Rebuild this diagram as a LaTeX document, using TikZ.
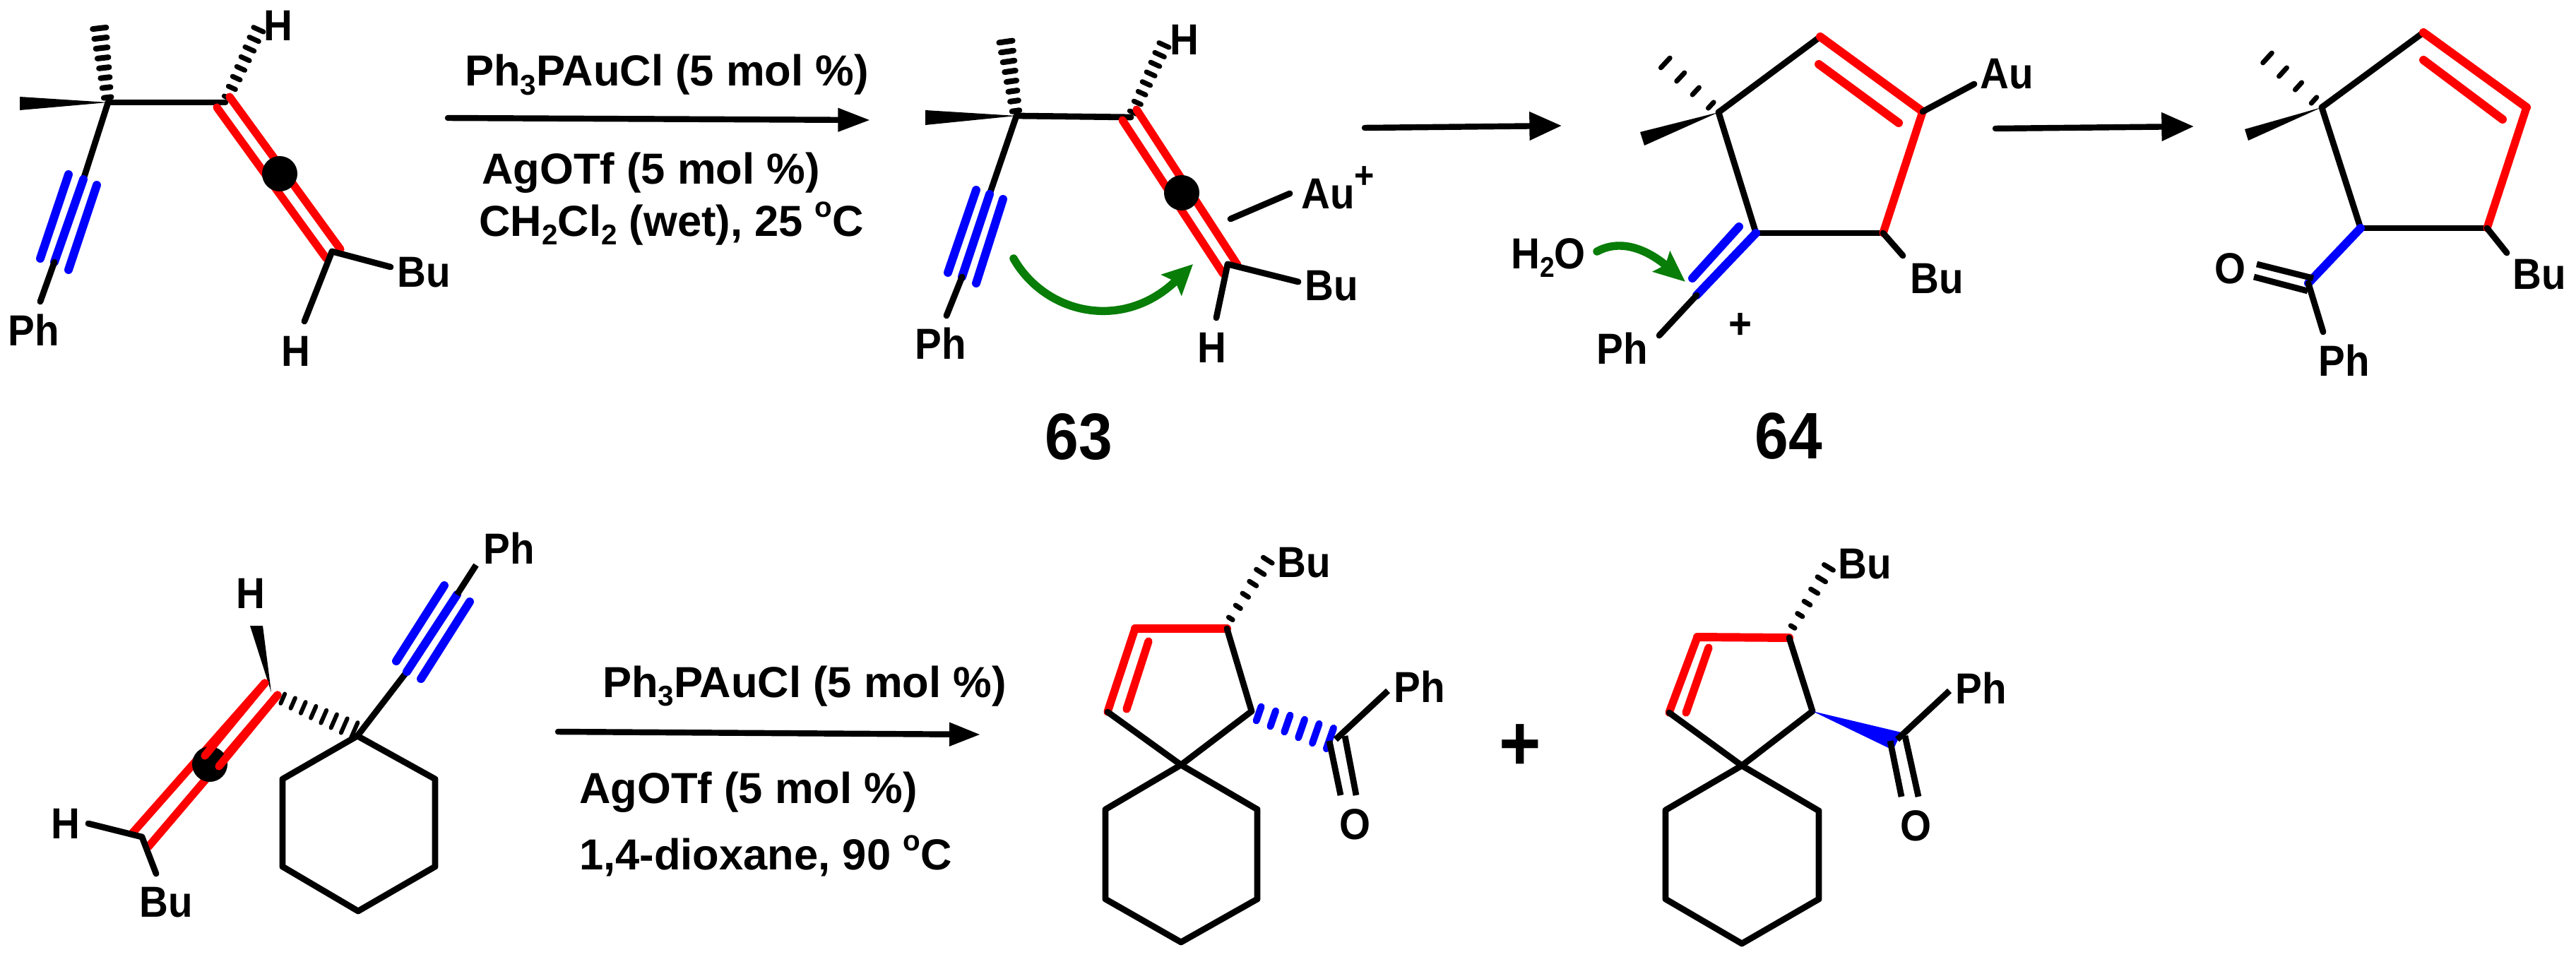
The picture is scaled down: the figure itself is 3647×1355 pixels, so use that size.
\documentclass[tikz,border=0pt]{standalone}
\usepackage{fontspec}
\setmainfont[FakeStretch=0.92]{Liberation Sans}
\newfontfamily\rgtfam{Liberation Sans}
\usetikzlibrary{calc,arrows.meta}
\definecolor{gr}{RGB}{8,125,8}
\newcommand{\subx}[1]{\raisebox{-7pt}{\fontsize{23}{24}\selectfont #1}}
\newcommand{\supo}{\raisebox{15pt}{\fontsize{23}{24}\selectfont o}}
% hashed bond: from, to, ticks, half-width at start, half-width at end, stroke width (all px), colour
\newcommand{\hashb}[7]{%
  \foreach \i in {1,...,#3}{%
    \pgfmathsetmacro\tt{(\i-0.5)/#3}%
    \pgfmathsetmacro\ww{(#4+(#5-#4)*\tt)*0.569}%
    \coordinate (hh) at ($(#1)!\tt!(#2)$);
    \draw[line width=#6*0.569pt,color=#7,line cap=round]
      ($(hh)!\ww pt!90:(#2)$) -- ($(hh)!-\ww pt!90:(#2)$);
  }%
}
\tikzset{
  bnd/.style={line width=5pt,line cap=round,line join=round,black},
  rbnd/.style={line width=6.4pt,line cap=round,line join=round,red},
  rthick/.style={line width=6.8pt,line cap=round,line join=round,red},
  bbnd/.style={line width=6.8pt,line cap=round,line join=round,blue},
  grn/.style={line width=6.5pt,gr,line cap=round},
  rxn/.style={line width=4.8pt,line cap=round,black},
  lab/.style={inner sep=0pt,font=\fontsize{35}{40}\selectfont\bfseries},
  rgnt/.style={inner sep=0pt,font=\rgtfam\fontsize{35}{40}\selectfont\bfseries},
  big/.style={inner sep=0pt,font=\fontsize{53}{58}\selectfont\bfseries},
}
\begin{document}
\begin{tikzpicture}[x=0.02cm,y=-0.02cm]
\path[use as bounding box,fill=white] (0,0) rectangle (3647,1355);

%% ---------- structure 1
\coordinate (a1) at (153,145); \coordinate (a2) at (319,145);
\coordinate (a1w1) at (28,137); \coordinate (a1w2) at (28,156);
\coordinate (a1h) at (140,33); \coordinate (a2h) at (369,35);
\coordinate (a3) at (118,254); \coordinate (a4) at (77,371); \coordinate (a5) at (57,427);
\coordinate (a3l) at (97,247); \coordinate (a4l) at (57,366);
\coordinate (a3r) at (137,262); \coordinate (a4r) at (97,382);
\coordinate (a6a) at (307,152); \coordinate (a7a) at (462,366);
\coordinate (a6b) at (325,137); \coordinate (a7b) at (482,353);
\coordinate (a8) at (396,246); \coordinate (a9) at (470,356);
\coordinate (a10) at (553,378); \coordinate (a11) at (431,455);
\fill (a1) -- (a1w1) -- (a1w2) -- cycle;
\hashb{a1}{a1h}{8}{5}{10}{8}{black}
\hashb{a2}{a2h}{8}{5}{8}{7}{black}
\draw[bnd] (a1) -- (a3);
\draw[bnd] (a1) -- (a2);
\draw[bbnd] (a3) -- (a4); \draw[bbnd] (a3l) -- (a4l); \draw[bbnd] (a3r) -- (a4r);
\draw[bnd] (a4) -- (a5);
\draw[rbnd] (a6a) -- (a7a); \draw[rbnd] (a6b) -- (a7b);
\fill (a8) circle[radius=25];
\draw[bnd] (a9) -- (a10); \draw[bnd] (a9) -- (a11);
\node[lab,anchor=base] (a1H) at (394,58) {H};
\node[lab,anchor=base] (a1Bu) at (600,406) {Bu};
\node[lab,anchor=base] (a2H) at (419,518) {H};
\node[lab,anchor=base] (a1Ph) at (48,489) {Ph};

%% arrow 1
\coordinate (r1s) at (634,167); \coordinate (r1e) at (1232,170);
\draw[rxn,-{Triangle[length=26pt,width=18pt]}] (r1s) -- (r1e);
\node[rgnt,anchor=base west] (r1a) at (658,122) {Ph\subx{3}PAuCl (5 mol \%)};
\node[rgnt,anchor=base west] (r1b) at (682,260) {AgOTf (5 mol \%)};
\node[rgnt,anchor=base west] (r1c) at (678,334) {CH\subx{2}Cl\subx{2} (wet), 25 \supo C};

%% ---------- structure 2 (63)
\coordinate (b1) at (1439,164); \coordinate (b2) at (1601,166);
\coordinate (b1w1) at (1310,156); \coordinate (b1w2) at (1310,177);
\coordinate (b1h) at (1423,52); \coordinate (b2h) at (1651,57);
\coordinate (b3) at (1401,275); \coordinate (b4) at (1362,392); \coordinate (b5) at (1340,447);
\coordinate (b3l) at (1382,269); \coordinate (b4l) at (1342,386);
\coordinate (b3r) at (1420,282); \coordinate (b4r) at (1382,401);
\coordinate (b6a) at (1589,170); \coordinate (b7a) at (1732,388);
\coordinate (b6b) at (1609,155); \coordinate (b7b) at (1752,375);
\coordinate (b8) at (1673,273); \coordinate (b9) at (1738,374);
\coordinate (b10) at (1838,399); \coordinate (b11) at (1722,450);
\coordinate (bau1) at (1742,310); \coordinate (bau2) at (1826,274);
\coordinate (bg1) at (1435,366); \coordinate (bg2) at (1689,374);
\fill (b1) -- (b1w1) -- (b1w2) -- cycle;
\hashb{b1}{b1h}{8}{5}{10}{8}{black}
\hashb{b2}{b2h}{8}{5}{8}{7}{black}
\draw[bnd] (b1) -- (b3);
\draw[bnd] (b1) -- (b2);
\draw[bbnd] (b3) -- (b4); \draw[bbnd] (b3l) -- (b4l); \draw[bbnd] (b3r) -- (b4r);
\draw[bnd] (b4) -- (b5);
\draw[rbnd] (b6a) -- (b7a); \draw[rbnd] (b6b) -- (b7b);
\fill (b8) circle[radius=25];
\draw[bnd] (b9) -- (b10); \draw[bnd] (b9) -- (b11);
\draw[bnd] (bau1) -- (bau2);
\draw[grn,-{Stealth[length=24pt,width=23pt,inset=4pt]}] (bg1) .. controls (1480,445) and (1590,470) .. (bg2);
\node[lab,anchor=base] (bH1) at (1677,78) {H};
\node[lab,anchor=base west] (bAu) at (1842,295) {Au\raisebox{16.5pt}{\fontsize{30}{30}\selectfont +}};
\node[lab,anchor=base] (bBu) at (1885,425) {Bu};
\node[lab,anchor=base] (bH2) at (1716,513) {H};
\node[lab,anchor=base] (bPh) at (1332,508) {Ph};
\node[big,anchor=base] (b63) at (1527,650) {63};

%% arrow 2
\coordinate (r2s) at (1932,181); \coordinate (r2e) at (2211,178);
\draw[rxn,-{Triangle[length=26pt,width=22pt]}] (r2s) -- (r2e);

%% ---------- structure 3 (64)
\coordinate (c1) at (2433,159); \coordinate (c2) at (2577,52); \coordinate (c3) at (2722,158);
\coordinate (c4) at (2666,330); \coordinate (c5) at (2486,330);
\coordinate (c1w1) at (2322,187); \coordinate (c1w2) at (2328,206);
\coordinate (c1h) at (2347,79);
\coordinate (c2i) at (2575,91); \coordinate (c3i) at (2688,174);
\coordinate (c6) at (2402,418); \coordinate (c7) at (2462,321); \coordinate (c8) at (2396,394);
\coordinate (c9) at (2349,475);
\coordinate (cau) at (2795,119); \coordinate (cbu) at (2694,362);
\coordinate (cg1) at (2261,356); \coordinate (cg2) at (2386,399);
\fill (c1) -- (c1w1) -- (c1w2) -- cycle;
\hashb{c1}{c1h}{4}{5}{10}{7}{black}
\draw[bnd] (c1) -- (c2);
\draw[bnd] (c1) -- (c5);
\draw[bnd] (c5) -- (c4);
\draw[rthick] (c2) -- (c3); \draw[rthick] (c2i) -- (c3i);
\draw[rbnd] (c3) -- (c4);
\draw[bnd] (c3) -- (cau); \draw[bnd] (c4) -- (cbu);
\draw[bbnd] (c5) -- (c6); \draw[bbnd] (c7) -- (c8);
\draw[bnd] (c6) -- (c9);
\draw[grn,-{Stealth[length=25pt,width=21pt,inset=4pt]}] (cg1) .. controls (2300,335) and (2340,360) .. (cg2);
\node[lab,anchor=base west] (cH2O) at (2139,380) {H\subx{2}O};
\node[lab,anchor=base] (cPh) at (2297,515) {Ph};
\node[lab] (cplus) at (2464,461) {+};
\node[lab,anchor=base] (cAu) at (2841,126) {Au};
\node[lab,anchor=base] (cBu) at (2742,415) {Bu};
\node[big,anchor=base] (c64) at (2532,649) {64};

%% arrow 3
\coordinate (r3s) at (2825,182); \coordinate (r3e) at (3106,179);
\draw[rxn,-{Triangle[length=26pt,width=22pt]}] (r3s) -- (r3e);

%% ---------- structure 4
\coordinate (d1) at (3287,152); \coordinate (d2) at (3431,46); \coordinate (d3) at (3577,152);
\coordinate (d4) at (3521,323); \coordinate (d5) at (3342,323);
\coordinate (d1w1) at (3178,183); \coordinate (d1w2) at (3183,199);
\coordinate (d1h) at (3199,72);
\coordinate (d2i) at (3431,85); \coordinate (d3i) at (3543,169);
\coordinate (d6) at (3268,401); \coordinate (d7) at (3289,470);
\coordinate (d8a) at (3195,374); \coordinate (d8b) at (3275,394);
\coordinate (d9a) at (3191,392); \coordinate (d9b) at (3267,412);
\coordinate (dbu) at (3549,358);
\fill (d1) -- (d1w1) -- (d1w2) -- cycle;
\hashb{d1}{d1h}{4}{5}{10}{7}{black}
\draw[bnd] (d1) -- (d2);
\draw[bnd] (d1) -- (d5);
\draw[bnd] (d5) -- (d4);
\draw[rthick] (d2) -- (d3); \draw[rthick] (d2i) -- (d3i);
\draw[rbnd] (d3) -- (d4);
\draw[bnd] (d4) -- (dbu);
\draw[bbnd] (d5) -- (d6);
\draw[bnd] (d6) -- (d7);
\draw[bnd,line cap=butt] (d8a) -- (d8b); \draw[bnd,line cap=butt] (d9a) -- (d9b);
\node[lab,anchor=base] (dO) at (3157,401) {O};
\node[lab,anchor=base] (dPh) at (3319,532) {Ph};
\node[lab,anchor=base] (dBu) at (3595,409) {Bu};

%% ---------- structure 5 (bottom left)
\coordinate (e1) at (506,1042); \coordinate (e2) at (616,1103); \coordinate (e3) at (616,1227);
\coordinate (e4) at (507,1290); \coordinate (e5) at (400,1227); \coordinate (e6) at (400,1103);
\coordinate (e7) at (576,951); \coordinate (e8) at (647,842); \coordinate (e9) at (674,800);
\coordinate (e7l) at (561,936); \coordinate (e8l) at (629,829);
\coordinate (e7r) at (596,961); \coordinate (e8r) at (665,852);
\coordinate (e10) at (384,980); \coordinate (e10w1) at (354,886); \coordinate (e10w2) at (372,886);
\coordinate (e10h) at (393,986);  \coordinate (e1h) at (509,1037);
\coordinate (e11a) at (375,967); \coordinate (e12a) at (187,1180);
\coordinate (e11b) at (393,984); \coordinate (e12b) at (210,1199);
\coordinate (e13a) at (290,1070); \coordinate (e13b) at (310,1085);
\coordinate (e14) at (297,1082); \coordinate (e15) at (201,1185);
\coordinate (e16) at (125,1166); \coordinate (e17) at (221,1237);
\draw[bnd] (e1) -- (e2) -- (e3) -- (e4) -- (e5) -- (e6) -- cycle;
\draw[bnd] (e1) -- (e7);
\draw[bbnd] (e7) -- (e8); \draw[bbnd] (e7l) -- (e8l); \draw[bbnd] (e7r) -- (e8r);
\draw[bnd,line cap=butt] (e8) -- (e9);
\hashb{e10h}{e1h}{8}{7}{12}{6}{black}
\fill (e10) -- (e10w1) -- (e10w2) -- cycle;
\draw[rbnd] (e11a) -- (e12a); \draw[rbnd] (e11b) -- (e12b);
\fill (e14) circle[radius=25];
\draw[rbnd] (e11a) -- (e13a); \draw[rbnd] (e11b) -- (e13b);
\draw[bnd] (e15) -- (e16); \draw[bnd] (e15) -- (e17);
\node[lab,anchor=base] (ePh) at (721,798) {Ph};
\node[lab,anchor=base] (eH1) at (355,861) {H};
\node[lab,anchor=base] (eH2) at (93,1187) {H};
\node[lab,anchor=base] (eBu) at (235,1298) {Bu};

%% arrow 4
\coordinate (r4s) at (790,1036); \coordinate (r4e) at (1388,1040);
\draw[rxn,-{Triangle[length=25pt,width=18pt]}] (r4s) -- (r4e);
\node[rgnt,anchor=base west] (r4a) at (853,987) {Ph\subx{3}PAuCl (5 mol \%)};
\node[rgnt,anchor=base west] (r4b) at (820,1137) {AgOTf (5 mol \%)};
\node[rgnt,anchor=base west] (r4c) at (820,1231) {1,4-dioxane, 90 \supo C};

%% ---------- product 1
\coordinate (f1) at (1672,1083); \coordinate (f2) at (1780,1146); \coordinate (f3) at (1780,1273);
\coordinate (f4) at (1672,1334); \coordinate (f5) at (1565,1273); \coordinate (f6) at (1565,1146);
\coordinate (f7) at (1568,1008); \coordinate (f8) at (1607,890); \coordinate (f9) at (1737,890);
\coordinate (f10) at (1772,1007);
\coordinate (f8i) at (1626,908); \coordinate (f7i) at (1595,1004);
\coordinate (f9h) at (1737,884); \coordinate (fbu) at (1800,785);
\coordinate (fb) at (1893,1049);
\coordinate (f11) at (1891,1047); \coordinate (f12) at (1965,978);
\coordinate (f13a) at (1882,1049); \coordinate (f13b) at (1898,1126);
\coordinate (f14a) at (1904,1042); \coordinate (f14b) at (1920,1126);
\draw[bnd] (f1) -- (f2) -- (f3) -- (f4) -- (f5) -- (f6) -- cycle;
\draw[rbnd] (f7) -- (f8); \draw[rthick] (f8) -- (f9); \draw[rbnd] (f8i) -- (f7i);
\draw[bnd] (f9) -- (f10); \draw[bnd] (f10) -- (f1); \draw[bnd] (f1) -- (f7);
\hashb{f9h}{fbu}{6}{3}{8}{7}{black}
\hashb{f10}{fb}{6}{10}{16}{10}{blue}
\draw[bnd,line cap=butt] (f11) -- (f12);
\draw[bnd,line cap=butt] (f13a) -- (f13b); \draw[bnd,line cap=butt] (f14a) -- (f14b);
\node[lab,anchor=base] (fBu) at (1846,817) {Bu};
\node[lab,anchor=base] (fPh) at (2010,994) {Ph};
\node[lab,anchor=base] (fO) at (1918,1188) {O};

%% plus
\node[inner sep=0pt,font=\fontsize{63}{66}\selectfont\bfseries] (plus) at (2152,1058) {+};

%% ---------- product 2
\coordinate (g1) at (2466,1084); \coordinate (g2) at (2575,1148); \coordinate (g3) at (2575,1273);
\coordinate (g4) at (2466,1336); \coordinate (g5) at (2358,1273); \coordinate (g6) at (2358,1147);
\coordinate (g7) at (2363,1009); \coordinate (g8) at (2403,902); \coordinate (g9) at (2533,903);
\coordinate (g10) at (2566,1007);
\coordinate (g8i) at (2419,917); \coordinate (g7i) at (2387,1009);
\coordinate (g9h) at (2533,896); \coordinate (gbu) at (2594,795);
\coordinate (gw1) at (2692,1037); \coordinate (gw2) at (2680,1062);
\coordinate (g11) at (2686,1047); \coordinate (g12) at (2760,978);
\coordinate (g13a) at (2676,1049); \coordinate (g13b) at (2692,1128);
\coordinate (g14a) at (2697,1042); \coordinate (g14b) at (2716,1128);
\draw[bnd] (g1) -- (g2) -- (g3) -- (g4) -- (g5) -- (g6) -- cycle;
\draw[rbnd] (g7) -- (g8); \draw[rthick] (g8) -- (g9); \draw[rbnd] (g8i) -- (g7i);
\draw[bnd] (g9) -- (g10); \draw[bnd] (g10) -- (g1); \draw[bnd] (g1) -- (g7);
\hashb{g9h}{gbu}{6}{3}{8}{7}{black}
\fill[blue] (g10) -- (gw1) -- (gw2) -- cycle;
\draw[bnd,line cap=butt] (g11) -- (g12);
\draw[bnd,line cap=butt] (g13a) -- (g13b); \draw[bnd,line cap=butt] (g14a) -- (g14b);
\node[lab,anchor=base] (gBu) at (2640,819) {Bu};
\node[lab,anchor=base] (gPh) at (2805,996) {Ph};
\node[lab,anchor=base] (gO) at (2712,1190) {O};
\end{tikzpicture}
\end{document}
